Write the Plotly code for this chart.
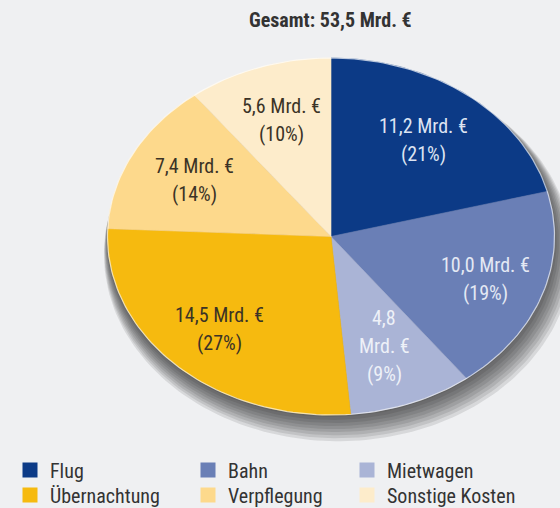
import numpy as np
import plotly.graph_objects as go

# ---- data ----
categories = ["Flug", "Bahn", "Mietwagen", "Übernachtung", "Verpflegung", "Sonstige Kosten"]
values = [11.2, 10.0, 4.8, 14.5, 7.4, 5.6]
value_labels = ["11,2 Mrd. €", "10,0 Mrd. €", "4,8<br>Mrd. €", "14,5 Mrd. €", "7,4 Mrd. €", "5,6 Mrd. €"]
title_text = "Gesamt: 53,5 Mrd. €"

# ---- style ----
colors = ["#0c3a86", "#6a7fb6", "#aab4d6", "#f6ba0f", "#fdd98c", "#fdeccb"]
text_colors = ["#dde4f2", "#e4e9f4", "#eef1f8", "#3b3326", "#3b3326", "#3b3326"]
label_r = [0.68, 0.73, 0.66, 0.72, 0.69, 0.69]
FONT = "Roboto Condensed, Liberation Sans Narrow, DejaVu Sans Condensed, sans-serif"
BG = "#eff0f2"

W, H = 560, 508
cx_px, cy_px, rx_px, ry_px = 331, 236.5, 223.5, 178.5
LINE_GAP = 28
# legend slot positions (px): column x of legend box, row centre y
legend_col_x = [10, 188, 347]
legend_row_y = [470, 495]
legend_slots = [(0, 0), (1, 0), (2, 0), (0, 1), (1, 1), (2, 1)]  # (col, row) per category

total = sum(values)
fig = go.Figure()

# soft shadow below the ellipse
th = np.linspace(0, 2 * np.pi, 240)
for k in range(9):
    s = 1.0 + 0.006 * k
    dy = -0.011 * (k + 1)
    fig.add_trace(go.Scatter(x=s * np.sin(th) + 0.004 * k, y=s * np.cos(th) + dy, mode="lines",
                             fill="toself", fillcolor="rgba(30,30,30,0.11)",
                             line=dict(width=0), hoverinfo="skip", showlegend=False))

cum = np.concatenate([[0], np.cumsum(values)]) / total
for i, cat in enumerate(categories):
    t = np.linspace(cum[i], cum[i + 1], 90) * 2 * np.pi
    xs = np.concatenate([[0], np.sin(t), [0]])
    ys = np.concatenate([[0], np.cos(t), [0]])
    fig.add_trace(go.Scatter(x=xs, y=ys, mode="lines", fill="toself", fillcolor=colors[i],
                             line=dict(width=0.6, color=colors[i]), name=cat,
                             hoverinfo="name", showlegend=False))

# light rim
fig.add_trace(go.Scatter(x=np.sin(th), y=np.cos(th), mode="lines",
                         line=dict(width=1.2, color="rgba(255,255,255,0.65)"),
                         hoverinfo="skip", showlegend=False))

# labels (each line separately for the wider line spacing)
for i, cat in enumerate(categories):
    tm = (cum[i] + cum[i + 1]) / 2 * 2 * np.pi
    pct = round(values[i] / total * 100)
    lines = value_labels[i].split("<br>") + [f"({pct}%)"]
    n = len(lines)
    for j, ln in enumerate(lines):
        fig.add_annotation(x=label_r[i] * np.sin(tm), y=label_r[i] * np.cos(tm),
                           text=ln, showarrow=False,
                           yshift=((n - 1) / 2 - j) * LINE_GAP,
                           font=dict(family=FONT, size=20, color=text_colors[i]))

# legend entries: one single-item legend per category
legend_layout = {}
for i, cat in enumerate(categories):
    key = "legend" if i == 0 else f"legend{i + 1}"
    col, row = legend_slots[i]
    fig.add_trace(go.Scatter(x=[None], y=[None], mode="markers", name=cat, legend=key,
                             marker=dict(symbol="square", size=15, color=colors[i])))
    legend_layout[key] = dict(x=legend_col_x[col] / W, y=1 - legend_row_y[row] / H,
                              xanchor="left", yanchor="middle",
                              font=dict(family=FONT, size=20, color="#333333"),
                              bgcolor="rgba(0,0,0,0)", itemwidth=30)

fig.add_annotation(xref="paper", yref="paper", x=330 / W, y=1 - 20 / H, yanchor="middle",
                   text=f"<b>{title_text}</b>", showarrow=False,
                   font=dict(family=FONT, size=20, color="#333333"))

xr = [-cx_px / rx_px, (W - cx_px) / rx_px]
yr = [(cy_px - H) / ry_px, cy_px / ry_px]
fig.update_layout(
    width=W, height=H,
    margin=dict(l=0, r=0, t=0, b=0, autoexpand=False),
    paper_bgcolor=BG, plot_bgcolor=BG,
    xaxis=dict(range=xr, visible=False, fixedrange=True),
    yaxis=dict(range=yr, visible=False, fixedrange=True),
    showlegend=True,
    font=dict(family=FONT),
    **legend_layout,
)

fig.write_html("out.html", config={"displayModeBar": False},
               post_script="document.body.style.margin='0';document.body.style.background='" + BG + "';")
